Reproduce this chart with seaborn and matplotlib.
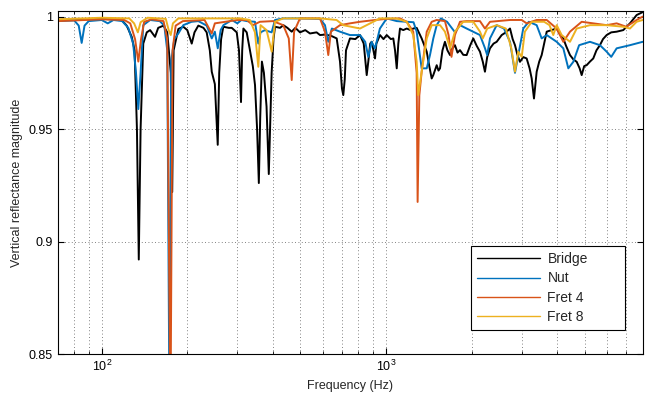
import matplotlib
matplotlib.use("Agg")
import matplotlib.pyplot as plt
import seaborn as sns
import pandas as pd

# (frequency in Hz, vertical reflectance magnitude)
bridge = [
    (70, 0.9985), (80, 0.999), (90, 0.9988), (100, 0.999), (110, 0.9987), (117.6, 0.9985),
    (122.4, 0.996), (127.5, 0.991), (130.5, 0.985), (133, 0.95), (135, 0.892), (137, 0.95),
    (140, 0.988), (144, 0.993), (148, 0.994), (154, 0.991), (158, 0.995), (165, 0.996),
    (170, 0.993), (172.5, 0.984), (175, 0.975), (177, 0.922), (179, 0.985), (186, 0.9945),
    (193.6, 0.9955), (200, 0.994), (207.3, 0.988), (212, 0.993), (218.7, 0.996), (228, 0.995),
    (234, 0.993), (240, 0.985), (243.8, 0.9755), (250, 0.97), (255.9, 0.943), (259, 0.975),
    (263, 0.99), (267.7, 0.9955), (280, 0.995), (286.7, 0.995), (298.5, 0.993), (304, 0.985),
    (309, 0.962), (312, 0.985), (315, 0.9947), (323.6, 0.993), (332.4, 0.985), (340, 0.978),
    (346.1, 0.9696), (352, 0.95), (357, 0.926), (361, 0.955), (366, 0.98), (372, 0.975),
    (380, 0.96), (387, 0.93), (391, 0.95), (396, 0.975), (402, 0.99), (407, 0.9955),
    (424, 0.995), (435.4, 0.9962), (450, 0.995), (465.9, 0.9933), (480, 0.995), (498.3, 0.993),
    (520, 0.994), (540.3, 0.9925), (570, 0.993), (586, 0.9918), (610, 0.992), (640, 0.9915),
    (670.8, 0.9903), (689, 0.98), (700, 0.968), (707.6, 0.9651), (716, 0.972), (723.3, 0.985),
    (747, 0.9903), (780, 0.99), (810, 0.9918), (835, 0.988), (855.4, 0.974), (866.5, 0.98),
    (880, 0.988), (890.8, 0.9888), (903, 0.985), (914.9, 0.9814), (925, 0.988), (952.6, 0.9918),
    (980, 0.99), (1006, 0.9918), (1040, 0.99), (1061, 0.9903), (1076, 0.985), (1091, 0.977),
    (1105, 0.988), (1120, 0.9947), (1150, 0.994), (1183, 0.9947), (1220, 0.994), (1247, 0.9947),
    (1282, 0.995), (1335, 0.9903), (1391, 0.9844), (1420, 0.978), (1448, 0.9725), (1467, 0.974),
    (1508, 0.9784), (1530, 0.976), (1549, 0.977), (1580, 0.985), (1612, 0.9888), (1645, 0.985),
    (1680, 0.9829), (1715, 0.986), (1748, 0.9873), (1785, 0.984), (1821, 0.9851), (1870, 0.983),
    (1922, 0.9829), (1975, 0.987), (2028, 0.9903), (2085, 0.987), (2141, 0.9844), (2190, 0.98),
    (2229, 0.9755), (2270, 0.982), (2322, 0.9859), (2390, 0.988), (2451, 0.9888), (2553, 0.9918),
    (2640, 0.993), (2731, 0.9947), (2790, 0.99), (2843, 0.9873), (2900, 0.983), (2960, 0.9799),
    (3040, 0.982), (3125, 0.9814), (3200, 0.977), (3255, 0.9725), (3316, 0.9636), (3389, 0.9755),
    (3460, 0.98), (3529, 0.9829), (3600, 0.988), (3676, 0.9933), (3820, 0.994), (3985, 0.9947),
    (4100, 0.992), (4205, 0.9903), (4300, 0.987), (4439, 0.9829), (4560, 0.981), (4687, 0.9799),
    (4800, 0.977), (4880, 0.974), (4980, 0.978), (5080, 0.9784), (5219, 0.98), (5360, 0.9814),
    (5500, 0.985), (5657, 0.9873), (5800, 0.99), (5974, 0.9918), (6200, 0.993), (6478, 0.9933),
    (6834, 0.994), (7215, 0.997), (7616, 1.0007), (8000, 1.002),
]

nut = [
    (70, 0.998), (80, 0.9983), (83, 0.996), (85, 0.9883), (87, 0.996), (90, 0.998), (100, 0.9985),
    (105, 0.997), (110, 0.9985), (118, 0.998), (124, 0.995), (129, 0.988), (132, 0.975),
    (134.5, 0.9589), (137, 0.975), (140, 0.9962), (148, 0.9985), (160, 0.998), (166, 0.996),
    (170, 0.985), (173, 0.83), (175.5, 0.98), (180, 0.99), (186, 0.9925), (193.6, 0.9962),
    (207, 0.9977), (218.7, 0.998), (234, 0.996), (243.8, 0.9903), (250, 0.9933), (256, 0.9859),
    (262, 0.994), (268, 0.9962), (287, 0.9985), (300, 0.997), (310, 0.9985), (324, 0.998),
    (346, 0.9977), (355.5, 0.988), (362, 0.993), (375, 0.994), (396, 0.993), (407, 0.9985),
    (435, 0.9992), (500, 0.9992), (586, 0.999), (610, 0.9962), (626.6, 0.9888), (645, 0.9947),
    (689, 0.9933), (747, 0.9918), (810, 0.9918), (845, 0.9888), (866.5, 0.9821), (890, 0.9888),
    (915, 0.9859), (952, 0.9947), (1006, 0.9992), (1091, 0.998), (1183, 0.9977), (1250, 0.9975),
    (1282, 0.9933), (1335, 0.977), (1391, 0.977), (1428, 0.9829), (1467, 0.9903), (1508, 0.9962),
    (1560, 0.9992), (1640, 0.9977), (1750, 0.993), (1821, 0.9962), (1922, 0.9947), (2141, 0.9918),
    (2229, 0.986), (2270, 0.9829), (2322, 0.9903), (2451, 0.9962), (2600, 0.9947), (2731, 0.9888),
    (2843, 0.975), (2920, 0.9829), (3040, 0.9947), (3180, 0.9977), (3389, 0.9962), (3529, 0.9903),
    (3676, 0.9918), (3985, 0.9888), (4205, 0.9859), (4379, 0.977), (4560, 0.9799), (4780, 0.9873),
    (5219, 0.9888), (5657, 0.9873), (5974, 0.9844), (6200, 0.9821), (6478, 0.9859), (7215, 0.9873),
    (8000, 0.9888),
]

fret4 = [
    (70, 0.998), (100, 0.9988), (120, 0.9985), (126, 0.997), (131, 0.99), (134.5, 0.98),
    (137.5, 0.99), (141, 0.9977), (150, 0.9988), (165, 0.998), (170, 0.99), (174.5, 0.82),
    (177.5, 0.985), (182, 0.996), (193, 0.998), (230, 0.9985), (243.8, 0.9925), (250, 0.997),
    (300, 0.9985), (324, 0.9985), (340, 0.9962), (360, 0.9977), (400, 0.998), (435, 0.9962),
    (455, 0.9903), (466, 0.9718), (475, 0.9933), (498, 0.9992), (586, 0.9992), (610, 0.9933),
    (626.6, 0.9829), (640, 0.9933), (689, 0.9962), (747, 0.997), (810, 0.9977), (915, 0.9985),
    (1006, 0.999), (1120, 0.9992), (1183, 0.9977), (1247, 0.9933), (1282, 0.975), (1292, 0.9176),
    (1310, 0.965), (1335, 0.9755), (1391, 0.9933), (1448, 0.9977), (1508, 0.9985), (1612, 0.998),
    (1660, 0.9918), (1700, 0.9821), (1748, 0.9918), (1821, 0.9977), (1922, 0.998), (2141, 0.998),
    (2229, 0.9947), (2322, 0.9977), (2731, 0.9985), (3002, 0.9985), (3125, 0.997), (3389, 0.9985),
    (3676, 0.9985), (3985, 0.9947), (4205, 0.9888), (4439, 0.9933), (4880, 0.9977), (5360, 0.997),
    (5974, 0.9962), (6478, 0.997), (7000, 0.9955), (7616, 0.9985), (8000, 1.0),
]

fret8 = [
    (70, 0.9988), (100, 0.9995), (125, 0.9992), (130, 0.997), (134, 0.993), (137, 0.9975),
    (145, 0.9995), (168, 0.999), (172, 0.994), (174.9, 0.9918), (178, 0.997), (186, 0.9992),
    (240, 0.9992), (307, 0.9992), (332, 0.9985), (346, 0.993), (355.5, 0.9777), (362, 0.9962),
    (380, 0.994), (396.3, 0.9844), (407, 0.9977), (435, 0.9992), (586, 0.9992), (670, 0.9985),
    (707, 0.9962), (810, 0.9947), (952, 0.9992), (1091, 0.9992), (1183, 0.9977), (1247, 0.9918),
    (1282, 0.98), (1299, 0.9651), (1335, 0.9755), (1391, 0.9903), (1448, 0.9962), (1549, 0.9962),
    (1612, 0.9933), (1680, 0.9859), (1748, 0.9933), (1870, 0.9977), (2028, 0.9977), (2141, 0.9933),
    (2190, 0.9903), (2270, 0.9947), (2451, 0.9962), (2640, 0.9947), (2760, 0.9859), (2843, 0.9755),
    (2920, 0.9844), (3002, 0.9821), (3080, 0.9933), (3255, 0.9977), (3600, 0.9977), (3760, 0.9962),
    (3877, 0.9918), (3985, 0.9962), (4150, 0.9918), (4439, 0.9888), (4687, 0.9947), (5219, 0.9962),
    (5974, 0.9962), (6834, 0.9955), (7215, 0.9947), (7616, 0.9977), (8000, 0.9985),
]

series_names = ["Bridge", "Nut", "Fret 4", "Fret 8"]
series_colors = ["#000000", "#0072BD", "#D95319", "#EDB120"]
y_ticks = [0.85, 0.9, 0.95, 1.0]
y_tick_labels = ["0.85", "0.9", "0.95", "1"]

frames = []
for name, pts in zip(series_names, [bridge, nut, fret4, fret8]):
    d = pd.DataFrame(pts, columns=["freq", "value"])
    d["series"] = name
    frames.append(d)
df = pd.concat(frames, ignore_index=True)

sns.set_style("ticks")
plt.rcParams["font.family"] = ["Liberation Sans", "DejaVu Sans"]
plt.rcParams["font.size"] = 9

fig = plt.figure(figsize=(6.49, 4.01), dpi=100)
ax = fig.add_axes([0.0889, 0.1172, 0.9014, 0.8554])

sns.lineplot(data=df, x="freq", y="value", hue="series", hue_order=series_names,
             palette=dict(zip(series_names, series_colors)), estimator=None, sort=False,
             linewidth=1.4, ax=ax, legend=False)

ax.set_xscale("log")
ax.set_xlim(70, 8000)
ax.set_ylim(0.85, 1.0025)
ax.set_yticks(y_ticks)
ax.set_yticklabels(y_tick_labels)

grid_kw = dict(linestyle=(0, (1, 3)), color="0.35", linewidth=0.6)
ax.grid(True, which="both", axis="x", **grid_kw)
ax.grid(True, which="major", axis="y", **grid_kw)
ax.set_axisbelow(True)

ax.tick_params(which="both", direction="in", top=True, right=True, labelsize=9, colors="black")
ax.tick_params(which="major", length=4)
ax.tick_params(which="minor", length=2)
for sp in ax.spines.values():
    sp.set_color("black")
    sp.set_linewidth(0.8)

ax.set_xlabel("Frequency (Hz)", fontsize=9)
ax.set_ylabel("Vertical reflectance magnitude", fontsize=9)

# MATLAB-like legend box: wide, with room to the right of the labels
leg = ax.legend(ax.get_lines()[:4], series_names, loc="lower left",
                bbox_to_anchor=(0.7065, 0.070, 0.2632, 0.242), mode="expand",
                borderaxespad=0, fancybox=False, framealpha=1, edgecolor="black",
                handlelength=4.5, handletextpad=0.55, fontsize=10, labelspacing=0.37,
                borderpad=0.45)
leg.get_frame().set_linewidth(0.8)
for h in leg.get_lines():
    h.set_linewidth(1.0)

fig.savefig("out.png", dpi=100)
